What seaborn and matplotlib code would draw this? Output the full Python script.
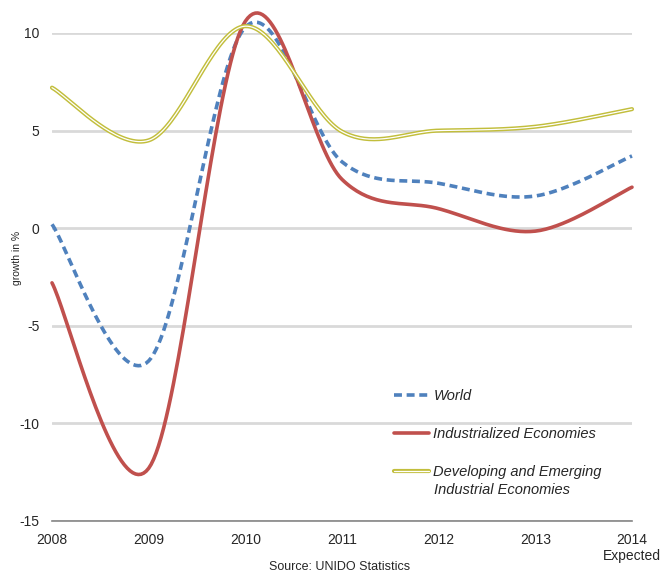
import numpy as np
import pandas as pd
import seaborn as sns
import matplotlib.pyplot as plt
import matplotlib.patheffects as pe

# annual growth values (2014 = expected)
years = [2008, 2009, 2010, 2011, 2012, 2013, 2014]
world = [0.2, -6.8, 10.3, 3.4, 2.3, 1.65, 3.7]
industrialized = [-2.8, -12.3, 10.6, 2.5, 1.0, -0.15, 2.1]
developing = [7.2, 4.5, 10.35, 4.95, 5.0, 5.2, 6.1]
tick_labels = ['2008', '2009', '2010', '2011', '2012', '2013', '2014\nExpected']


def smooth(x, y, n=40):
    # Excel style smoothed line (Catmull-Rom through the yearly points)
    x = np.asarray(x, float)
    y = np.asarray(y, float)
    px = np.concatenate([[x[0]], x, [x[-1]]])
    py = np.concatenate([[y[0]], y, [y[-1]]])
    xs, ys = [], []
    t = np.linspace(0, 1, n)
    for i in range(1, len(px) - 2):
        p0, p1, p2, p3 = (np.array([px[j], py[j]]) for j in range(i - 1, i + 3))
        c1 = p1 + (p2 - p0) / 6
        c2 = p2 - (p3 - p1) / 6
        b = ((1 - t) ** 3)[:, None] * p1 + (3 * (1 - t) ** 2 * t)[:, None] * c1 \
            + (3 * (1 - t) * t ** 2)[:, None] * c2 + (t ** 3)[:, None] * p2
        xs.extend(b[:, 0])
        ys.extend(b[:, 1])
    return pd.DataFrame({'year': xs, 'growth': ys})


sns.set_style('white')
plt.rcParams['font.family'] = ['Liberation Sans', 'DejaVu Sans']

fig = plt.figure(figsize=(6.65, 5.75), dpi=100)
ax = fig.add_axes([52 / 665, 1 - 521 / 575, 580 / 665, 488 / 575])

sns.lineplot(data=smooth(years, world), x='year', y='growth', ax=ax, color='#4f81bd',
             lw=2.6, linestyle=(0, (2.2, 1.3)), label='World', clip_on=False, sort=False)
sns.lineplot(data=smooth(years, industrialized), x='year', y='growth', ax=ax, color='#c0504d',
             lw=2.6, label='Industrialized Economies', clip_on=False, sort=False)
sns.lineplot(data=smooth(years, developing), x='year', y='growth', ax=ax, color='white',
             lw=0.9, label='Developing and Emerging', clip_on=False, sort=False,
             path_effects=[pe.Stroke(linewidth=3.0, foreground='#c2be3c'), pe.Normal()])

ax.set_xlim(2008, 2014)
ax.set_ylim(-15, 10)
ax.set_yticks([-15, -10, -5, 0, 5, 10])
ax.set_yticklabels(['-15', '-10', '-5', '0', '5', '10'])
ax.set_xticks(years)
ax.set_xticklabels(tick_labels)
ax.set_xlabel('')
ax.set_ylabel('')
ax.grid(axis='y', color='#d9d9d9', lw=2)
ax.set_axisbelow(True)
for s in ['left', 'right', 'top']:
    ax.spines[s].set_visible(False)
ax.spines['bottom'].set_color('#868686')
ax.spines['bottom'].set_linewidth(1.2)
ax.tick_params(axis='x', direction='in', length=4, color='#868686', labelsize=10, pad=9)
ax.tick_params(axis='y', length=0, labelsize=10, pad=9)
for lab in ax.get_xticklabels():
    lab.set_horizontalalignment('center')
    lab.set_multialignment('center')
    lab.set_linespacing(1.15)

fig.text(17 / 665, 1 - 258 / 575, 'growth in %', rotation=90, fontsize=7.5,
         ha='center', va='center')
fig.text(340 / 665, 1 - 567 / 575, 'Source: UNIDO Statistics', fontsize=9,
         ha='center', va='center')

leg = ax.legend(loc='upper left', bbox_to_anchor=(394 / 665, 1 - 389 / 575),
                bbox_transform=fig.transFigure, frameon=False, borderpad=0,
                borderaxespad=0, handlelength=2.4, handletextpad=0.3, labelspacing=1.65,
                prop={'style': 'italic', 'size': 10.5})
# second line of the last legend label, under the first
fig.text(434 / 665, 1 - 490 / 575, 'Industrial Economies', ha='left', va='center',
         fontsize=10.5, style='italic')

fig.savefig('out.png', dpi=100)
